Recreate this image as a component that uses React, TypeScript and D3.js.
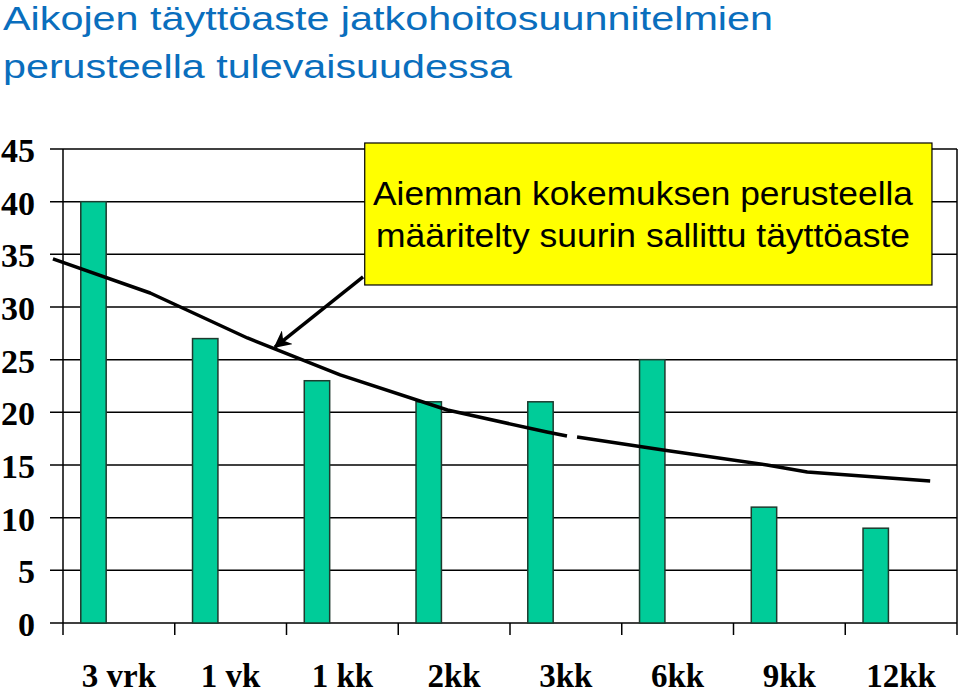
import React, { useEffect } from "react";
import * as d3 from "d3";

const categories = ["3 vrk", "1 vk", "1 kk", "2kk", "3kk", "6kk", "9kk", "12kk"];
const barValues = [40, 27, 23, 21, 21, 25, 11, 9];
const yTicks = [0, 5, 10, 15, 20, 25, 30, 35, 40, 45];
// limit curve: positions in category units (0 = left axis), value
const limitU = [-0.09, 0.78, 1.65, 2.48, 3.44, 4.33, 4.51, NaN, 4.6, 5.37, 6.3, 6.66, 7.76];
const limitV = [34.56, 31.33, 27.06, 23.55, 20.22, 18.13, 17.75, NaN, 17.66, 16.42, 15.0, 14.34, 13.48];
const titleLines = ["Aikojen täyttöaste jatkohoitosuunnitelmien", "perusteella tulevaisuudessa"];
const noteLines = ["Aiemman kokemuksen perusteella", "määritelty suurin sallittu täyttöaste"];

const W = 959;
const H = 693;
const left = 63;
const right = 957;
const top = 149;
const bottom = 623;

export default function App() {
  useEffect(() => {
    document.body.style.margin = "0";
  }, []);

  const x = d3.scaleBand<string>().domain(categories).range([left, right]).padding(0);
  const sub = d3.scaleBand<string>().domain(["a", "b", "c"]).range([0, x.bandwidth()]).paddingInner(0).paddingOuter(0.7);
  const y = d3.scaleLinear().domain([0, 45]).range([bottom, top]);
  const u = d3.scaleLinear().domain([0, categories.length]).range([left, right]);

  const pts = limitU.map((d, i) => ({ u: d, v: limitV[i] }));
  const line = d3
    .line<{ u: number; v: number }>()
    .defined((d) => !isNaN(d.u))
    .x((d) => u(d.u))
    .y((d) => y(d.v));

  const boundaries = categories.map((c) => x(c) as number).concat([right]);

  // annotation in data units
  const boxU0 = 2.7, boxU1 = 7.776, boxV0 = 45.57, boxV1 = 32.09;
  const arrStartU = 2.685, arrStartV = 32.85, arrTipU = 1.897, arrTipV = 26.2;

  return (
    <svg width={W} height={H} style={{ display: "block", background: "#fff" }}>
      <defs>
        <marker id="arrowHead" viewBox="0 0 10 10" refX="9" refY="5" markerWidth="5" markerHeight="5" orient="auto" markerUnits="strokeWidth">
          <path d="M0,0 L10,5 L0,10 L3,5 Z" fill="#000" />
        </marker>
      </defs>
      {/* title */}
      {titleLines.map((t, i) => (
        <text
          key={t}
          x={3}
          y={30 + i * 48}
          fill="#0A6EBD"
          fontFamily="'Liberation Sans', Arial, sans-serif"
          fontSize={33}
          textLength={i === 0 ? 770 : 509}
          lengthAdjust="spacingAndGlyphs"
        >
          {t}
        </text>
      ))}
      {/* gridlines */}
      {yTicks.map((t) => (
        <line key={t} x1={50} x2={right} y1={y(t)} y2={y(t)} stroke="#000" strokeWidth={1.5} />
      ))}
      {/* y axis */}
      <line x1={left} x2={left} y1={top} y2={bottom} stroke="#000" strokeWidth={1.5} />
      {/* category ticks */}
      {boundaries.map((b, i) => (
        <line key={i} x1={b} x2={b} y1={i === boundaries.length - 1 ? top : bottom} y2={635} stroke="#000" strokeWidth={1.5} />
      ))}
      {/* y labels */}
      {yTicks.map((t) => (
        <text
          key={t}
          x={35}
          y={y(t) + 13}
          textAnchor="end"
          fontFamily="'Liberation Serif', 'Times New Roman', serif"
          fontWeight="bold"
          fontSize={34}
          fill="#000"
        >
          {t}
        </text>
      ))}
      {/* bars */}
      {barValues.map((v, i) => (
        <rect
          key={i}
          x={(x(categories[i]) as number) + (sub("a") as number)}
          y={y(v)}
          width={sub.bandwidth()}
          height={y(0) - y(v)}
          fill="#00CC99"
          stroke="#1E3A2E"
          strokeWidth={1.5}
        />
      ))}
      {/* x labels */}
      {categories.map((c) => (
        <text
          key={c}
          x={(x(c) as number) + x.bandwidth() / 2}
          y={687}
          textAnchor="middle"
          fontFamily="'Liberation Serif', 'Times New Roman', serif"
          fontWeight="bold"
          fontSize={33}
          fill="#000"
        >
          {c}
        </text>
      ))}
      {/* limit curve */}
      <path d={line(pts) || ""} fill="none" stroke="#000" strokeWidth={3.5} strokeLinejoin="round" />
      {/* annotation box */}
      <rect
        x={u(boxU0)}
        y={y(boxV0)}
        width={u(boxU1) - u(boxU0)}
        height={y(boxV1) - y(boxV0)}
        fill="#FFFF00"
        stroke="#000"
        strokeWidth={1.2}
      />
      {noteLines.map((t, i) => (
        <text
          key={t}
          x={643}
          y={205 + i * 42}
          textAnchor="middle"
          fontFamily="'Liberation Sans', Arial, sans-serif"
          fontSize={33}
          fill="#000"
          textLength={i === 0 ? 540 : 534}
          lengthAdjust="spacingAndGlyphs"
        >
          {t}
        </text>
      ))}
      {/* arrow */}
      <line
        x1={u(arrStartU)}
        y1={y(arrStartV)}
        x2={u(arrTipU)}
        y2={y(arrTipV)}
        stroke="#000"
        strokeWidth={3.5}
        markerEnd="url(#arrowHead)"
      />
    </svg>
  );
}
